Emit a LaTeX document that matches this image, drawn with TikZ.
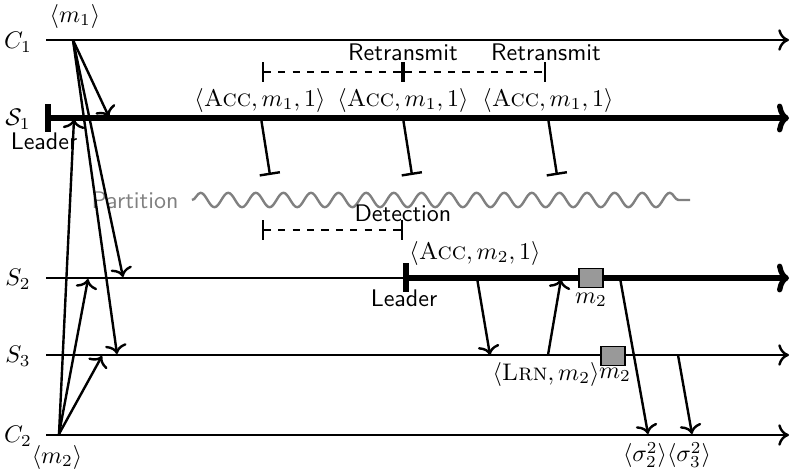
\documentclass[tikz,border=0pt]{standalone}
\usetikzlibrary{arrows.meta,decorations.pathmorphing}
\begin{document}
\begin{tikzpicture}[x=0.4167pt,y=-0.4167pt,
  thinline/.style={line width=1pt,-{To[length=4.5pt,width=9pt]}},
  thickline/.style={line width=2.2pt,-{To[length=5pt,width=12pt]}},
  msg/.style={line width=1pt,-{To[length=4pt,width=9pt]}},
  ackline/.style={line width=1pt,-{Bar[width=8.5pt,line width=1pt]}},
  timer/.style={line width=1pt,dashed,{Bar[width=8pt]}-{Bar[width=8pt]}},
  tick/.style={line width=2.2pt},
  lbl/.style={font=\sffamily,inner sep=0pt},
  mlbl/.style={inner sep=0pt},
  box/.style={draw,fill=gray!80,minimum width=10pt,minimum height=7.8pt,inner sep=0pt,line width=0.6pt}]
\useasboundingbox (0,0) rectangle (791,470);
% process lines
\coordinate (c1s) at (46,40);  \coordinate (c1e) at (789,40);
\coordinate (s1s) at (48,118); \coordinate (s1e) at (789,118);
\coordinate (s2s) at (46,278); \coordinate (s2l) at (406,278); \coordinate (s2e) at (789,278);
\coordinate (s3s) at (46,355); \coordinate (s3e) at (789,355);
\coordinate (c2s) at (46,435); \coordinate (c2e) at (789,435);
\draw[thinline] (c1s) -- (c1e);
\draw[thickline] (s1s) -- (s1e);
\draw[line width=1pt] (s2s) -- (s2l);
\draw[thickline] (s2l) -- (s2e);
\draw[thinline] (s3s) -- (s3e);
\draw[thinline] (c2s) -- (c2e);
% leader ticks
\coordinate (t1a) at (48,104); \coordinate (t1b) at (48,132);
\coordinate (t2a) at (406,263); \coordinate (t2b) at (406,292);
\draw[tick] (t1a) -- (t1b);
\draw[tick] (t2a) -- (t2b);
% process labels
\node[mlbl] (lc1) at (18,42) {$C_1$};
\node[mlbl] (ls1) at (18,119) {$\mathcal{S}_1$};
\node[mlbl] (ls2) at (18,279) {$S_2$};
\node[mlbl] (ls3) at (18,356) {$S_3$};
\node[mlbl] (lc2) at (18,436) {$C_2$};
\node[lbl] (lead1) at (44,141) {Leader};
\node[lbl] (lead2) at (404,298) {Leader};
\node[mlbl] (m1) at (75,16) {$\langle m_1\rangle$};
\node[mlbl] (m2) at (57,457) {$\langle m_2\rangle$};
% partition
\node[lbl,text=gray] (part) at (135,200) {Partition};
\coordinate (pa) at (192,200); \coordinate (pb) at (690,200);
\draw[gray,line width=1pt,decorate,decoration={snake,segment length=11.5pt,amplitude=3pt}] (pa) -- (pb);
% C1 messages
\coordinate (c1o) at (73,40);
\coordinate (a1) at (109,117); \coordinate (a2) at (123,277); \coordinate (a3) at (117,354);
\draw[msg] (c1o) -- (a1);
\draw[msg] (c1o) -- (a2);
\draw[msg] (c1o) -- (a3);
% C2 messages
\coordinate (c2o) at (59,434);
\coordinate (b1) at (74,119); \coordinate (b2) at (88,279); \coordinate (b3) at (102,356);
\draw[msg] (c2o) -- (b1);
\draw[msg] (c2o) -- (b2);
\draw[msg] (c2o) -- (b3);
% retransmissions
\coordinate (r1) at (262,72); \coordinate (r2) at (403,72); \coordinate (r3) at (546,72);
\draw[timer] (r1) -- (r2);
\draw[timer] (r2) -- (r3);
\node[lbl] (rt1) at (403,52) {Retransmit};
\node[lbl] (rt2) at (546,52) {Retransmit};
\node[mlbl] (acc1) at (260,100) {$\langle\textsc{Acc}, m_1, 1\rangle$};
\node[mlbl] (acc2) at (403,100) {$\langle\textsc{Acc}, m_1, 1\rangle$};
\node[mlbl] (acc3) at (548,100) {$\langle\textsc{Acc}, m_1, 1\rangle$};
\coordinate (x1s) at (261,118); \coordinate (x1e) at (270,175);
\coordinate (x2s) at (403,118); \coordinate (x2e) at (412,175);
\coordinate (x3s) at (548,118); \coordinate (x3e) at (557,175);
\draw[ackline] (x1s) -- (x1e);
\draw[ackline] (x2s) -- (x2e);
\draw[ackline] (x3s) -- (x3e);
% detection
\coordinate (d1) at (262,230); \coordinate (d2) at (403,230);
\draw[timer] (d1) -- (d2);
\node[lbl] (det) at (403,213) {Detection};
% S2 / S3 exchange
\node[mlbl] (acc4) at (475,253) {$\langle\textsc{Acc}, m_2, 1\rangle$};
\coordinate (e1) at (477,278); \coordinate (e2) at (490,355);
\draw[msg] (e1) -- (e2);
\coordinate (f1) at (548,355); \coordinate (f2) at (561,279);
\draw[msg] (f1) -- (f2);
\node[mlbl] (lrn) at (546,374) {$\langle\textsc{Lrn}, m_2\rangle$};
\node[box] (bx2) at (591,278) {};
\node[mlbl] (bx2l) at (591,300) {$m_2$};
\node[box] (bx3) at (613,356) {};
\node[mlbl] (bx3l) at (615,375) {$m_2$};
% to C2
\coordinate (g1) at (620,278); \coordinate (g2) at (648,434);
\coordinate (h1) at (678,355); \coordinate (h2) at (692,434);
\draw[msg] (g1) -- (g2);
\draw[msg] (h1) -- (h2);
\node[mlbl] (sg2) at (645,455) {$\langle\sigma_2^2\rangle$};
\node[mlbl] (sg3) at (689,455) {$\langle\sigma_3^2\rangle$};
\end{tikzpicture}
\end{document}
